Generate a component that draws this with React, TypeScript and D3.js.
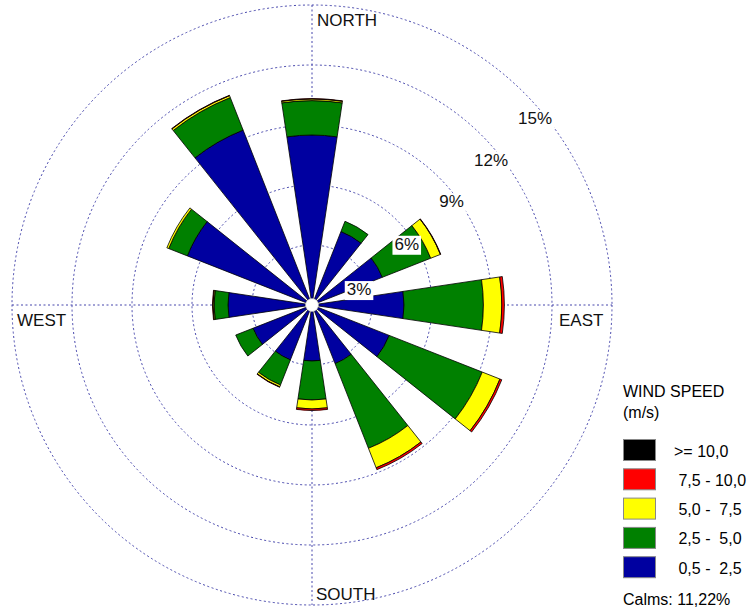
import React, { useEffect, useRef } from 'react';
import * as d3 from 'd3';

// wind directions, degrees clockwise from north
const directions = [0, 30, 60, 90, 120, 150, 180, 210, 240, 270, 300, 330];

// frequency (%) of each speed class per direction
const speed0_5to2_5 = [8.5, 3.95, 3.78, 4.6, 4.15, 3.15, 2.8, 2.95, 3.17, 4.2, 6.7, 9.4];
const speed2_5to5_0 = [1.72, 0.55, 2.6, 3.97, 5.0, 4.55, 1.95, 1.35, 0.93, 0.7, 1.0, 1.75];
const speed5_0to7_5 = [0.08, 0, 0.52, 0.92, 0.95, 1.05, 0.45, 0.1, 0, 0.05, 0.1, 0.1];
const speed7_5to10 = [0.02, 0, 0.02, 0.13, 0.1, 0.1, 0.08, 0.02, 0, 0.03, 0, 0.02];
const speedAbove10 = [0, 0, 0, 0, 0, 0, 0, 0, 0, 0, 0, 0];

const classLabels = [' 0,5 -  2,5', ' 2,5 -  5,0', ' 5,0 -  7,5', ' 7,5 - 10,0', '>= 10,0'];
const classColors = ['#0000a0', '#008000', '#ffff00', '#ff0000', '#000000'];
const ringTicks = [3, 6, 9, 12, 15];
const calms = 'Calms: 11,22%';

const FONT = "'Liberation Sans', Arial, sans-serif";

const App = () => {
  const ref = useRef<SVGSVGElement | null>(null);

  useEffect(() => {
    const svg = d3.select(ref.current);
    svg.selectAll('*').remove();

    const cx = 312;
    const cy = 305;
    const r = d3.scaleLinear().domain([0, 15]).range([0, 300]);
    const series = [speed0_5to2_5, speed2_5to5_0, speed5_0to7_5, speed7_5to10, speedAbove10];
    const halfWidth = (8.5 * Math.PI) / 180;

    const g = svg.append('g').attr('transform', `translate(${cx},${cy})`);

    // grid rings
    g.selectAll('.ring')
      .data(ringTicks)
      .enter()
      .append('circle')
      .attr('r', (d) => r(d))
      .attr('fill', 'none')
      .attr('stroke', '#4646ac')
      .attr('stroke-width', 1)
      .attr('stroke-dasharray', '2,2.5');

    // axis lines
    const rMax = r(15);
    g.append('line').attr('x1', -rMax).attr('x2', rMax).attr('y1', 0).attr('y2', 0)
      .attr('stroke', '#4646ac').attr('stroke-dasharray', '2,2.5');
    g.append('line').attr('x1', 0).attr('x2', 0).attr('y1', -rMax).attr('y2', rMax)
      .attr('stroke', '#4646ac').attr('stroke-dasharray', '2,2.5');

    // stacked wedges
    const arc = d3.arc<any>();
    directions.forEach((dir, i) => {
      const a = (dir * Math.PI) / 180;
      let base = 0;
      series.forEach((s, k) => {
        const v = s[i];
        if (v > 0) {
          g.append('path')
            .attr('d', arc({
              innerRadius: r(base),
              outerRadius: r(base + v),
              startAngle: a - halfWidth,
              endAngle: a + halfWidth,
            }))
            .attr('fill', classColors[k])
            .attr('stroke', '#000')
            .attr('stroke-width', 0.8)
            .attr('stroke-linejoin', 'miter');
        }
        base += v;
      });
    });

    // center hole
    g.append('circle').attr('r', 6.5).attr('fill', '#fff').attr('stroke', '#bbb').attr('stroke-width', 0.6);

    // ring labels, bottom-right corner sitting on the ring
    ringTicks.forEach((t) => {
      const rr = r(t);
      const c = 48 + 0.04 * rr;
      const x = (c + Math.sqrt(2 * rr * rr - c * c)) / 2;
      const y = c - x;
      const txt = g.append('text')
        .attr('x', x)
        .attr('y', y - 1)
        .attr('text-anchor', 'end')
        .attr('font-family', FONT)
        .attr('font-size', 17)
        .attr('fill', '#111')
        .text(`${t}%`);
      const bb = (txt.node() as SVGTextElement).getBBox();
      g.insert('rect', () => txt.node() as any)
        .attr('x', bb.x - 2)
        .attr('y', bb.y + 1)
        .attr('width', bb.width + 4)
        .attr('height', bb.height)
        .attr('fill', '#fff');
    });

    // compass labels
    const compass = [
      { t: 'NORTH', x: 5, y: -279 },
      { t: 'EAST', x: 247, y: 21 },
      { t: 'SOUTH', x: 4, y: 295 },
      { t: 'WEST', x: -295, y: 21 },
    ];
    g.selectAll('.compass')
      .data(compass)
      .enter()
      .append('text')
      .attr('x', (d) => d.x)
      .attr('y', (d) => d.y)
      .attr('font-family', FONT)
      .attr('font-size', 17)
      .attr('fill', '#111')
      .text((d) => d.t);

    // legend
    const leg = svg.append('g').attr('transform', 'translate(623,0)');
    leg.append('text').attr('x', 0).attr('y', 397).attr('font-family', FONT)
      .attr('font-size', 16).text('WIND SPEED');
    leg.append('text').attr('x', 0).attr('y', 418).attr('font-family', FONT)
      .attr('font-size', 16).text('(m/s)');

    const rows = d3.range(classLabels.length).reverse();
    rows.forEach((k, j) => {
      const y0 = 439.5 + j * 29.3;
      leg.append('rect')
        .attr('x', 0.5).attr('y', y0).attr('width', 32).attr('height', 21)
        .attr('fill', classColors[k]).attr('stroke', '#888').attr('stroke-width', 1);
      leg.append('text')
        .attr('x', 51)
        .attr('y', y0 + 17)
        .attr('font-family', FONT)
        .attr('font-size', 16)
        .style('white-space', 'pre')
        .text(classLabels[k]);
    });

    leg.append('text').attr('x', 0).attr('y', 605).attr('font-family', FONT)
      .attr('font-size', 16).text(calms);

    return () => {
      svg.selectAll('*').remove();
    };
  }, []);

  return (
    <svg
      ref={ref}
      width={752}
      height={611}
      style={{ position: 'absolute', left: 0, top: 0, background: '#fff' }}
    />
  );
};

export default App;
